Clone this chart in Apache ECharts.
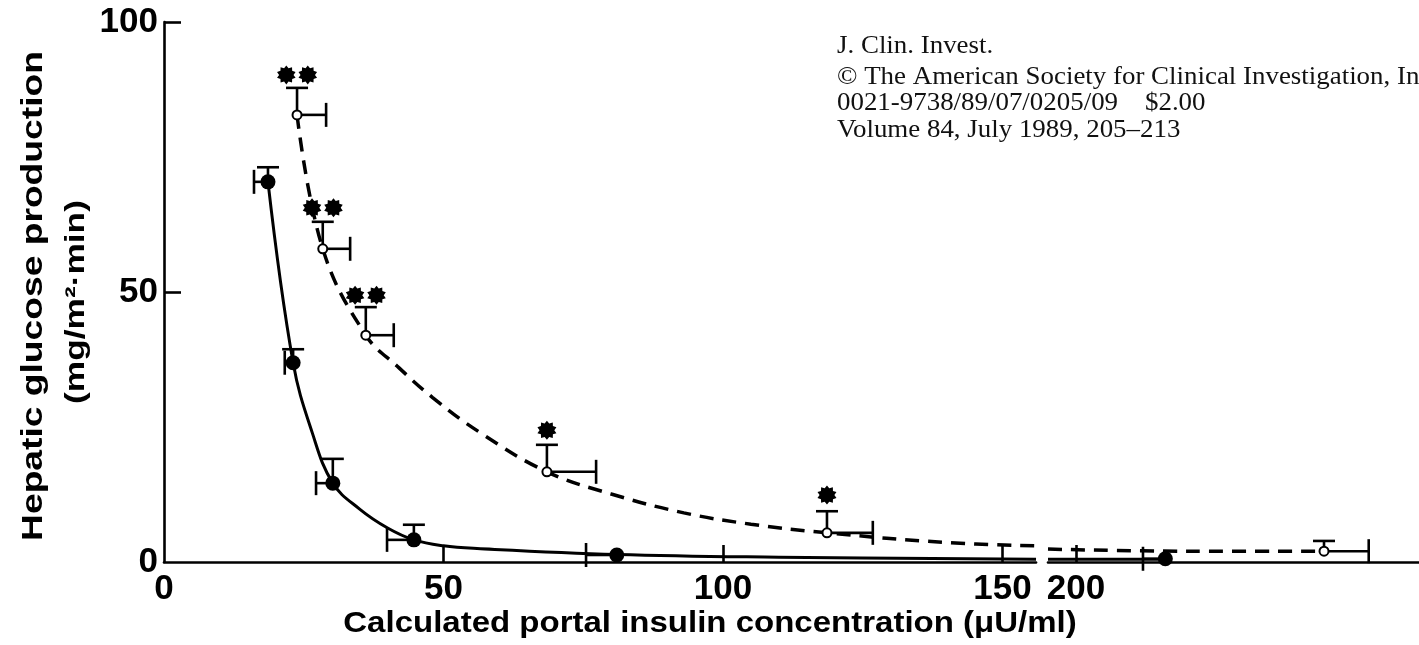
<!DOCTYPE html>
<html><head><meta charset="utf-8">
<script src="https://cdn.jsdelivr.net/npm/echarts@6/dist/echarts.min.js"></script>
<style>html,body{margin:0;padding:0;background:#fff}#c{width:1419px;height:645px}</style>
</head><body><div id="c"></div>
<script>
// ---- data ----
const xTicksLeft = [0, 50, 100, 150];
const xTicksRight = [200];
const yTicks = [0, 50, 100];

// filled circles (solid curve)
const filledX = [18.6, 23.1, 30.2, 44.7, 81, 216];
const filledY = [70.4, 36.9, 14.6, 4.1, 1.3, 0.6];
const filledYErrTop = [73.1, 39.4, 19.1, 6.9, 1.3, 0.6];
const filledXErrLow = [16.1, 21.6, 27.2, 39.9, 75.5, 212];

// open circles (dashed curve)
const openX = [23.8, 28.4, 36.1, 68.5, 118.6, 244.4];
const openY = [82.8, 58.0, 42.0, 16.7, 5.4, 2.0];
const openYErrTop = [87.8, 63.0, 47.2, 21.7, 9.4, 3.9];
const openXErrHigh = [29.0, 33.3, 41.1, 77.3, 126.8, 252.4];

// significance asterisks
const starX = [23.8, 28.4, 36.1, 68.5, 118.6];
const starY = [90.2, 65.6, 49.4, 24.4, 12.4];
const starCount = [2, 2, 2, 1, 1];

// fitted curves
const solidCurveX = [18.6, 23.1, 26.5, 30.2, 35, 40, 44.7, 50, 56, 81, 110, 156, 195, 216];
const solidCurveY = [70.4, 36.9, 24.0, 14.6, 9.8, 6.3, 4.1, 3.0, 2.5, 1.4, 0.9, 0.5, 0.5, 0.5];
const dashedCurveX = [23.8, 28.4, 36.1, 42, 48, 56.5, 68.5, 80, 93, 105, 118.6, 140, 156, 195, 220, 244.4];
const dashedCurveY = [82.8, 58.0, 42.0, 36.0, 30.5, 24.0, 16.7, 12.6, 9.1, 7.0, 5.4, 3.6, 3.0, 2.4, 2.0, 2.0];

const headerLines = [
  'J. Clin. Invest.',
  '\u00A9 The American Society for Clinical Investigation, Inc.',
  '0021-9738/89/07/0205/09    $2.00',
  'Volume 84, July 1989, 205\u2013213'
];
const yTitle1 = 'Hepatic glucose production';
const yTitle2 = '(mg/m\u00B2\u00B7min)';
const xTitle = 'Calculated portal insulin concentration (\u03BCU/ml)';

// ---- layout / style ----
const BREAK = 170;
const LEFT_MAX = 156, RIGHT_MIN = 195, RIGHT_MAX = 261.4;
const SANS = '"Liberation Sans", Arial, sans-serif';
const LW = 2.6;

function zipPts(xs, ys) { return xs.map((x, i) => [x, ys[i]]); }
function side(pts, right) { return pts.filter(p => right ? p[0] > BREAK : p[0] < BREAK); }

function starPath(cx, n, R, r) {
  let d = '';
  for (let k = 0; k < 2 * n; k++) {
    const a = Math.PI * k / n - Math.PI / 2;
    const rr = k % 2 === 0 ? R : r;
    d += (k === 0 ? 'M' : 'L') + (cx + rr * Math.cos(a)).toFixed(3) + ' ' + (rr * Math.sin(a)).toFixed(3) + ' ';
  }
  return d + 'Z ';
}
const starSingle = 'path://' + starPath(0, 10, 1, 0.74);
const starDouble = 'path://' + starPath(0, 10, 1, 0.74) + starPath(2.2, 10, 1, 0.74);

function errRender() {
  return function (params, api) {
    const x = api.value(0), y = api.value(1), yTop = api.value(2), xEnd = api.value(3);
    const p = api.coord([x, y]);
    const pt = api.coord([x, yTop]);
    const pe = api.coord([xEnd, y]);
    const st = { stroke: '#000', lineWidth: LW };
    const ch = [];
    if (yTop > y) {
      ch.push({ type: 'line', shape: { x1: p[0], y1: p[1], x2: pt[0], y2: pt[1] }, style: st });
      ch.push({ type: 'line', shape: { x1: pt[0] - 11, y1: pt[1], x2: pt[0] + 11, y2: pt[1] }, style: st });
    }
    if (xEnd !== x) {
      ch.push({ type: 'line', shape: { x1: p[0], y1: p[1], x2: pe[0], y2: pe[1] }, style: st });
      ch.push({ type: 'line', shape: { x1: pe[0], y1: pe[1] - 12, x2: pe[0], y2: pe[1] + 12 }, style: st });
    }
    return { type: 'group', children: ch };
  };
}

const filledPts = filledX.map((x, i) => [x, filledY[i], filledYErrTop[i], filledXErrLow[i]]);
const openPts = openX.map((x, i) => [x, openY[i], openYErrTop[i], openXErrHigh[i]]);
const starPts = starX.map((x, i) => ({
  value: [x, starY[i]],
  symbol: starCount[i] === 2 ? starDouble : starSingle,
  symbolSize: starCount[i] === 2 ? [40, 19] : [19, 19]
}));
const solidPts = zipPts(solidCurveX, solidCurveY);
const dashedPts = zipPts(dashedCurveX, dashedCurveY);

const series = [];
[0, 1].forEach(g => {
  const right = g === 1;
  series.push({
    type: 'line', xAxisIndex: g, yAxisIndex: g, data: side(solidPts, right),
    smooth: 0.4, showSymbol: false, silent: true, z: 2,
    lineStyle: { color: '#000', width: 3 }
  });
  series.push({
    type: 'line', xAxisIndex: g, yAxisIndex: g, data: side(dashedPts, right),
    smooth: 0.4, showSymbol: false, silent: true, z: 2,
    lineStyle: { color: '#000', width: 3.5, type: [14, 9] }
  });
  series.push({
    type: 'custom', xAxisIndex: g, yAxisIndex: g, renderItem: errRender(),
    data: side(filledPts, right), z: 3, silent: true
  });
  series.push({
    type: 'custom', xAxisIndex: g, yAxisIndex: g, renderItem: errRender(),
    data: side(openPts, right), z: 3, silent: true
  });
  series.push({
    type: 'scatter', xAxisIndex: g, yAxisIndex: g, data: side(filledPts, right).map(p => [p[0], p[1]]),
    symbol: 'circle', symbolSize: 15, itemStyle: { color: '#000', opacity: 1 }, z: 4, silent: true
  });
  series.push({
    type: 'scatter', xAxisIndex: g, yAxisIndex: g, data: side(openPts, right).map(p => [p[0], p[1]]),
    symbol: 'circle', symbolSize: 9, itemStyle: { color: '#fff', borderColor: '#000', borderWidth: 2, opacity: 1 }, z: 5, silent: true
  });
});
series.push({
  type: 'scatter', xAxisIndex: 0, yAxisIndex: 0, data: starPts,
  itemStyle: { color: '#000', opacity: 1 }, z: 5, silent: true
});

const axisCommon = {
  axisLine: { show: true, onZero: false, lineStyle: { color: '#000', width: LW } },
  axisTick: { show: true, inside: true, length: 17, lineStyle: { color: '#000', width: LW } },
  splitLine: { show: false },
  axisLabel: { color: '#000', fontFamily: SANS, fontWeight: 'bold', fontSize: 35 }
};

const headerY = [46, 77, 103, 130];
const graphic = headerLines.map((t, i) => ({
  type: 'text', x: 837, y: headerY[i], scaleX: 1.035,
  style: { text: t, font: '26px "Liberation Serif", "Times New Roman", serif', fill: '#111', align: 'left', verticalAlign: 'middle' }
}));
graphic.push(
  { type: 'text', x: 34, y: 296, rotation: Math.PI / 2, scaleX: 1.24,
    style: { text: yTitle1, font: 'bold 30px ' + SANS, fill: '#000', align: 'center', verticalAlign: 'middle' } },
  { type: 'text', x: 76, y: 302, rotation: Math.PI / 2, scaleX: 1.26,
    style: { text: yTitle2, font: 'bold 28px ' + SANS, fill: '#000', align: 'center', verticalAlign: 'middle' } },
  { type: 'text', x: 710, y: 624, scaleX: 1.1,
    style: { text: xTitle, font: 'bold 30px ' + SANS, fill: '#000', align: 'center', verticalAlign: 'middle' } }
);

const chart = echarts.init(document.getElementById('c'), null, { renderer: 'canvas' });
chart.setOption({
  animation: false,
  backgroundColor: '#fff',
  grid: [
    { left: 164, top: 22, bottom: 83, width: LEFT_MAX * 5.59 },
    { left: 1048, top: 22, bottom: 83, right: 0 }
  ],
  xAxis: [
    Object.assign({}, axisCommon, {
      type: 'value', gridIndex: 0, min: 0, max: LEFT_MAX,
      axisTick: Object.assign({}, axisCommon.axisTick, { customValues: xTicksLeft.slice(1) }),
      axisLabel: Object.assign({}, axisCommon.axisLabel, { customValues: xTicksLeft, margin: 10 })
    }),
    Object.assign({}, axisCommon, {
      type: 'value', gridIndex: 1, min: RIGHT_MIN, max: RIGHT_MAX,
      axisTick: Object.assign({}, axisCommon.axisTick, { customValues: xTicksRight }),
      axisLabel: Object.assign({}, axisCommon.axisLabel, { customValues: xTicksRight, margin: 10 })
    })
  ],
  yAxis: [
    Object.assign({}, axisCommon, {
      type: 'value', gridIndex: 0, min: 0, max: 100, interval: 50,
      axisTick: Object.assign({}, axisCommon.axisTick, { customValues: yTicks.slice(1) }),
      axisLabel: Object.assign({}, axisCommon.axisLabel, { customValues: yTicks, margin: 6 })
    }),
    { type: 'value', gridIndex: 1, min: 0, max: 100, show: false }
  ],
  graphic: graphic,
  series: series
});
</script></body></html>
